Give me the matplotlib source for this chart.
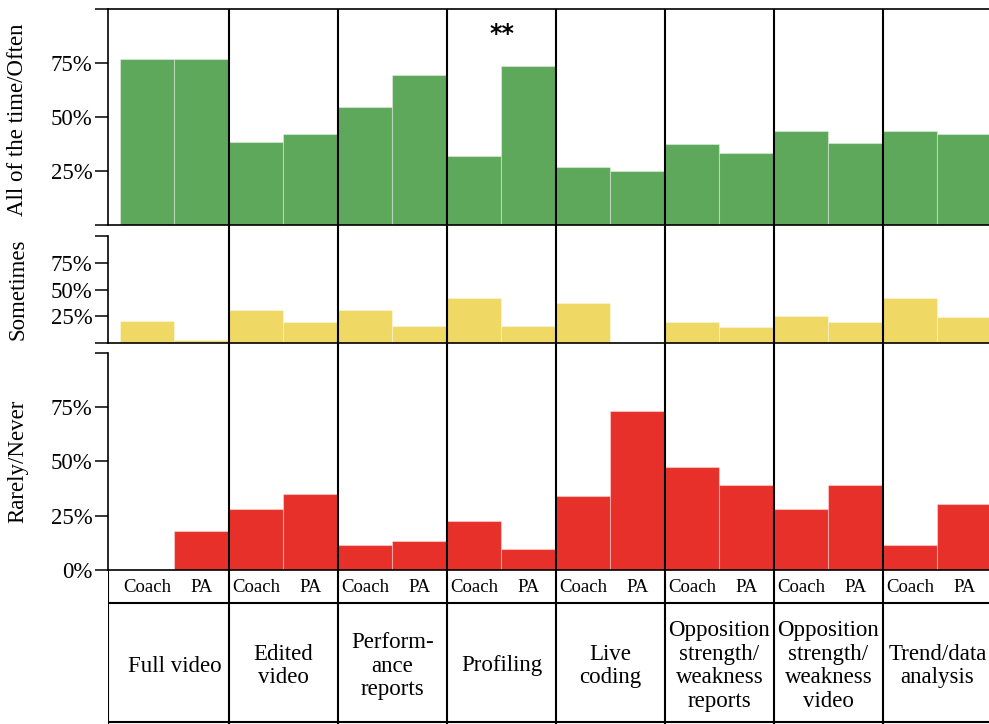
import matplotlib
matplotlib.use("Agg")
from matplotlib import pyplot as plt
import numpy as np

plt.rcParams['font.family'] = ['Liberation Serif', 'DejaVu Serif']

categories = ['Full video', 'Edited\nvideo', 'Perform-\nance\nreports', 'Profiling',
              'Live\ncoding', 'Opposition\nstrength/\nweakness\nreports',
              'Opposition\nstrength/\nweakness\nvideo', 'Trend/data\nanalysis']
groups = ['Coach', 'PA']

often_coach = [77, 38.5, 54.5, 32, 27, 37.5, 43.5, 43.5]
often_pa = [77, 42, 69.5, 73.5, 25, 33.5, 38, 42]
sometimes_coach = [20.5, 31, 31, 42, 37, 20, 25.5, 42.5]
sometimes_pa = [3, 19.5, 15.5, 15.5, 0, 15, 20, 24.5]
rarely_coach = [0, 28, 11.5, 22.5, 34, 47.5, 28, 11.5]
rarely_pa = [18, 35, 13.5, 9.5, 73.5, 39, 39, 30.5]

green = '#5ea85b'
yellow = '#f0d865'
red = '#e8302a'

W, H = 989, 724
fig = plt.figure(figsize=(W / 100, H / 100), dpi=100)

x = np.arange(len(categories))
xlim = (-0.61, 7.6)
left = 108 / W
width = (xlim[1] - xlim[0]) * 109 / W


def px_axes(top, bottom):
    return fig.add_axes([left, (H - bottom) / H, width, (bottom - top) / H])


ax_top = px_axes(9, 225)
ax_mid = px_axes(236, 343)
ax_bot = px_axes(353, 570)

panels = [
    (ax_top, often_coach, often_pa, green, ['', '25%', '50%', '75%', '']),
    (ax_mid, sometimes_coach, sometimes_pa, yellow, ['', '25%', '50%', '75%', '']),
    (ax_bot, rarely_coach, rarely_pa, red, ['0%', '25%', '50%', '75%', '']),
]
for ax, coach, pa, col, ticklabels in panels:
    ax.bar(x - 0.25, coach, 0.5, color=col, edgecolor=(1, 1, 1, 0.35), linewidth=0.8)
    ax.bar(x + 0.25, pa, 0.5, color=col, edgecolor=(1, 1, 1, 0.35), linewidth=0.8)
    ax.set_xlim(*xlim)
    ax.set_ylim(0, 100)
    ax.set_yticks([0, 25, 50, 75, 100])
    ax.set_yticklabels(ticklabels)
    ax.set_xticks([])
    ax.tick_params(axis='y', length=9.5, width=1.1, pad=1.5, labelsize=16.5)
    for s in ['left', 'bottom', 'top']:
        ax.spines[s].set_linewidth(1.2)
    ax.spines['right'].set_visible(False)
    if ax is not ax_top:
        ax.spines['top'].set_visible(False)

# significance marker above Profiling
ax_top.text(3, 88.5, '**', ha='center', va='center', fontsize=17, fontweight='bold',
            family='DejaVu Sans')

# overlay with category separators and the label table below
ax_grid = fig.add_axes([left, 0, width, (H - 9) / H])
ax_grid.set_xlim(*xlim)
ax_grid.set_ylim(0, H - 9)
ax_grid.axis('off')
bounds = np.arange(len(categories) + 1) - 0.5
ax_grid.vlines(bounds[1:], 0, H - 9, color='black', lw=1.5)
ax_grid.vlines([xlim[0]], 0, H - 570, color='black', lw=1.5)
ax_grid.hlines([H - 603, H - 722], xlim[0], xlim[1], color='black', lw=1.5)

for i in x:
    ax_grid.text(i - 0.25, H - 588, groups[0], ha='center', va='center', fontsize=13.5)
    ax_grid.text(i + 0.25, H - 588, groups[1], ha='center', va='center', fontsize=13.5)
    ax_grid.text(i, H - 666, categories[i], ha='center', va='center', fontsize=16.5,
                 linespacing=1.15)

fig.text(18 / W, (H - 120) / H, 'All of the time/Often', rotation=90, ha='center',
         va='center', fontsize=16.5)
fig.text(18 / W, (H - 289) / H, 'Sometimes', rotation=90, ha='center', va='center',
         fontsize=16.5)
fig.text(18 / W, (H - 461) / H, 'Rarely/Never', rotation=90, ha='center', va='center',
         fontsize=16.5)

fig.savefig('out.png', dpi=100)
